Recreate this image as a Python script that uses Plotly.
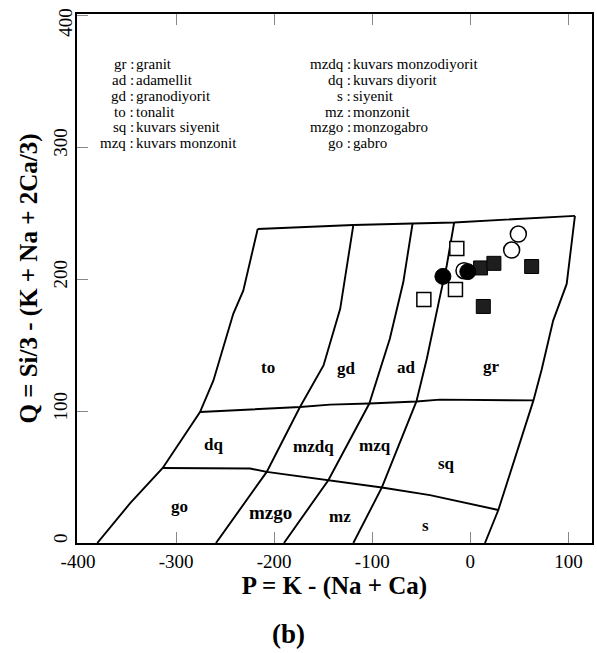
import plotly.graph_objects as go

# ---- classification boundaries (P, Q) ----
outer_left_P = [-380.3, -347, -313.6, -275.6, -262, -241.7, -231.5, -216.8]
outer_left_Q = [0, 30, 56.9, 99.3, 123, 173.7, 191.3, 238]
top_P = [-216.8, -119.3, -58.9, -16.5, 106.6]
top_Q = [238, 241, 242.2, 243, 248]
right_P = [106.6, 98.2, 84.4, 72.7, 64.3, 28.5, 14.9]
right_Q = [248, 196.4, 168.6, 131.5, 108.1, 25, 0]
upper_h_P = [-275.6, -173.7, -143, -103, -55, -31, 64.3]
upper_h_Q = [99.3, 103.1, 104.9, 105.7, 107.3, 108.7, 108.1]
lower_h_P = [-313.6, -224.6, -207.6, -144.8, -90.2, -41.2, 28.5]
lower_h_Q = [56.9, 56.5, 53.9, 47.6, 42.1, 36.3, 25]
line1_P = [-259.3, -207.6, -173.7, -149.7, -132.7, -119.3]
line1_Q = [0, 53.9, 103.1, 134.6, 177.5, 241]
line2_P = [-190, -144.8, -103, -82.1, -68.4, -58.9]
line2_Q = [0, 47.6, 105.7, 154.8, 197.6, 242.2]
line3_P = [-119.3, -90.2, -55, -44.4, -30.8, -24.1, -16.5]
line3_Q = [0, 42.1, 107.3, 139.7, 187.5, 210.2, 243]

# ---- samples ----
open_circle_P = [48.9, 42.1, -6.5]
open_circle_Q = [234.2, 222.1, 206.4]
filled_circle_P = [-28, -2.6]
filled_circle_Q = [202.1, 205.7]
filled_square_P = [10.4, 24, 62.5, 13.2]
filled_square_Q = [208.5, 212, 209.6, 179.3]
open_square_P = [-13.8, -15.2, -47.4]
open_square_Q = [223.3, 192.1, 184.5]

# ---- field labels ----
field_labels = ["to", "gd", "ad", "gr", "dq", "mzdq", "mzq", "sq", "go", "mzgo", "mz", "s"]
field_P = [-206, -126, -65, 21.7, -262, -160, -97, -24, -297, -204, -133, -46]
field_Q = [133.3, 132.1, 133.3, 133.8, 74.8, 73.3, 74.1, 60.6, 27.4, 22.9, 20, 13]

legend_left_abbr = ["gr", "ad", "gd", "to", "sq", "mzq"]
legend_left_name = ["granit", "adamellit", "granodiyorit", "tonalit", "kuvars siyenit", "kuvars monzonit"]
legend_right_abbr = ["mzdq", "dq", "s", "mz", "mzgo", "go"]
legend_right_name = ["kuvars monzodiyorit", "kuvars diyorit", "siyenit", "monzonit", "monzogabro", "gabro"]

x_ticks = [-400, -300, -200, -100, 0, 100]
y_ticks = [0, 100, 200, 300, 400]
y_top_tick = [400]

SERIF = "Liberation Serif, Times New Roman, serif"

fig = go.Figure()
line_style = dict(color="black", width=1.9)
for px_, qy_ in [(outer_left_P, outer_left_Q), (top_P, top_Q), (right_P, right_Q),
                 (upper_h_P, upper_h_Q), (lower_h_P, lower_h_Q),
                 (line1_P, line1_Q), (line2_P, line2_Q), (line3_P, line3_Q)]:
    fig.add_trace(go.Scatter(x=px_, y=qy_, mode="lines", line=line_style,
                             showlegend=False, hoverinfo="skip"))

fig.add_trace(go.Scatter(x=open_square_P, y=open_square_Q, mode="markers", showlegend=False,
                         marker=dict(symbol="square", size=14, color="white",
                                     line=dict(color="black", width=1.5))))
fig.add_trace(go.Scatter(x=open_circle_P, y=open_circle_Q, mode="markers", showlegend=False,
                         marker=dict(symbol="circle", size=16, color="white",
                                     line=dict(color="black", width=1.5))))
fig.add_trace(go.Scatter(x=filled_square_P, y=filled_square_Q, mode="markers", showlegend=False,
                         marker=dict(symbol="square", size=14, color="#1e1e1e",
                                     line=dict(color="black", width=1))))
fig.add_trace(go.Scatter(x=filled_circle_P, y=filled_circle_Q, mode="markers", showlegend=False,
                         marker=dict(symbol="circle", size=16, color="black",
                                     line=dict(color="black", width=1))))
# empty trace so the overlaid axis carrying the top tick label is drawn
fig.add_trace(go.Scatter(x=[], y=[], yaxis="y2", showlegend=False, hoverinfo="skip"))

annotations = []
for t, xx, yy in zip(field_labels, field_P, field_Q):
    annotations.append(dict(x=xx, y=yy, text=f"<b>{t}</b>", showarrow=False,
                            font=dict(family=SERIF, size=19 if t == "mzgo" else 17, color="black")))

leg_font = dict(family=SERIF, size=15, color="black")
for i, (a, n) in enumerate(zip(legend_left_abbr, legend_left_name)):
    yy = 363 - 12 * i
    annotations.append(dict(x=-341.5, y=yy, text=f"{a} :", xanchor="right", showarrow=False,
                            borderpad=0, font=leg_font))
    annotations.append(dict(x=-341.5, y=yy, text=n, xanchor="left", showarrow=False,
                            borderpad=0, font=leg_font))
for i, (a, n) in enumerate(zip(legend_right_abbr, legend_right_name)):
    yy = 363 - 12 * i
    annotations.append(dict(x=-121, y=yy, text=f"{a} :", xanchor="right", showarrow=False,
                            borderpad=0, font=leg_font))
    annotations.append(dict(x=-121, y=yy, text=n, xanchor="left", showarrow=False,
                            borderpad=0, font=leg_font))

annotations.append(dict(x=0.41, y=-0.172, xref="paper", yref="paper", yanchor="middle",
                        text="<b>(b)</b>", showarrow=False,
                        font=dict(family=SERIF, size=27, color="black")))

tickfont = dict(family=SERIF, size=19, color="black")
fig.update_layout(
    width=597, height=653,
    margin=dict(l=77, r=5, t=14, b=110),
    paper_bgcolor="white", plot_bgcolor="white",
    font=dict(family=SERIF, color="black"),
    annotations=annotations,
    xaxis=dict(range=[-401, 124], tickvals=x_ticks, ticktext=[str(v) for v in x_ticks],
               ticks="inside", ticklen=11, automargin=False,
               tickcolor="#888", tickwidth=1, showgrid=False, zeroline=False,
               showline=True, linecolor="black", linewidth=2, mirror="ticks",
               ticklabeloverflow="allow", tickfont=tickfont,
               title=dict(text="<b>P = K - (Na + Ca)</b>", standoff=2,
                          font=dict(family=SERIF, size=25, color="black"))),
    yaxis=dict(range=[0, 401], tickvals=y_ticks,
               ticktext=["" if v in y_top_tick else str(v) for v in y_ticks],
               ticks="inside", ticklen=11, automargin=False,
               tickcolor="#888", tickwidth=1, showgrid=False, zeroline=False,
               showline=True, linecolor="black", linewidth=2, mirror=True,
               tickangle=-90, ticklabeloverflow="allow", ticklabelshift=-2,
               tickfont=tickfont,
               title=dict(text="<b>Q = Si/3 - (K + Na + 2Ca/3)</b>", standoff=6,
                          font=dict(family=SERIF, size=25, color="black"))),
    yaxis2=dict(range=[0, 401], overlaying="y", side="left", tickvals=y_top_tick,
                ticktext=[str(v) for v in y_top_tick], ticks="", automargin=False,
                showgrid=False, zeroline=False, showline=False, tickangle=-90,
                ticklabeloverflow="allow", ticklabelshift=10, tickfont=tickfont),
)

fig.write_html("out.html")
